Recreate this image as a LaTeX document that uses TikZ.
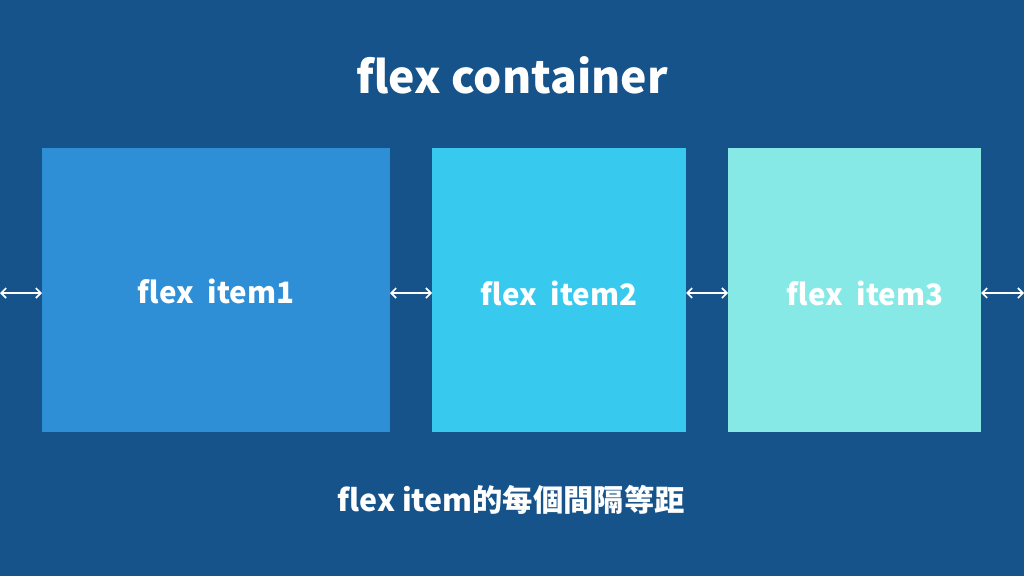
\documentclass[tikz,border=0pt]{standalone}
\usepackage{fontspec}
\setmainfont{Noto Sans CJK TC}
\usetikzlibrary{arrows.meta}
\definecolor{bgc}{HTML}{15538A}
\definecolor{c1}{HTML}{2E8FD6}
\definecolor{c2}{HTML}{38C9EF}
\definecolor{c3}{HTML}{86E9E6}
\begin{document}
\begin{tikzpicture}[x=1pt,y=-1pt,
  box/.style={inner sep=0pt, outer sep=0pt, anchor=north west},
  lbl/.style={text=white, font=\fontsize{29.5}{30}\selectfont\bfseries, inner sep=0pt},
  gap/.style={draw=white, line width=1.6pt, {Straight Barb[length=5pt,width=10pt]}-{Straight Barb[length=5pt,width=10pt]}}]
\fill[bgc] (0,0) rectangle (1024,576);
\useasboundingbox (0,0) rectangle (1024,576);
\node[text=white, font=\fontsize{44.5}{45}\selectfont\bfseries, inner sep=0pt] (title) at (512,75) {flex container};
\node[box, fill=c1, minimum width=348pt, minimum height=284pt] (b1) at (42,148) {};
\node[box, fill=c2, minimum width=254pt, minimum height=284pt] (b2) at (432,148) {};
\node[box, fill=c3, minimum width=253pt, minimum height=284pt] (b3) at (728,148) {};
\node[lbl] (t1) at (216,291) {flex\ \ item1};
\node[lbl] (t2) at (559,293) {flex\ \ item2};
\node[lbl] (t3) at (865,293) {flex\ \ item3};
\node[text=white, font=\fontsize{30.3}{31}\selectfont\bfseries, inner sep=0pt] (cap) at (511,500) {flex item的每個間隔等距};
\coordinate (l0) at (0,293);
\coordinate (r0) at (1024,293);
\draw[gap] (l0) -- (b1.west |- l0);
\draw[gap] (b1.east |- l0) -- (b2.west |- l0);
\draw[gap] (b2.east |- l0) -- (b3.west |- l0);
\draw[gap] (b3.east |- l0) -- (r0);
\end{tikzpicture}
\end{document}
